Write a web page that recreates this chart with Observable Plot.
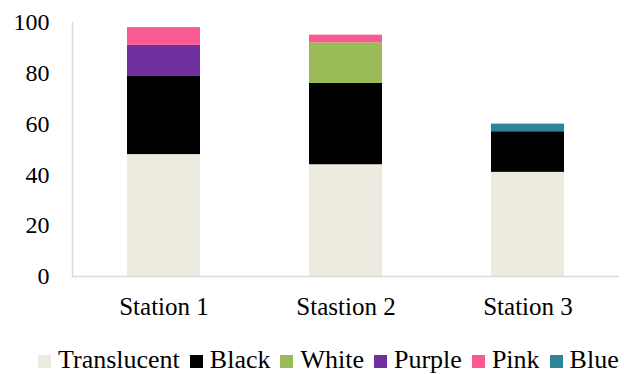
<!DOCTYPE html>
<html>
<head>
<meta charset="utf-8">
<script src="https://cdn.jsdelivr.net/npm/d3@7"></script>
<script src="https://cdn.jsdelivr.net/npm/@observablehq/plot@0.6"></script>
<style>
  html, body { margin: 0; padding: 0; background: #fff; }
  body { width: 624px; height: 374px; overflow: hidden; color: #000; }
  #legend { position: absolute; left: 38px; top: 346px; display: flex; align-items: center; font-family: "Liberation Serif", serif; font-size: 26px; line-height: 28px; white-space: nowrap; color: #000; }
  #legend .item { display: flex; align-items: center; margin-right: 10px; }
  #legend .sw { width: 13px; height: 13px; margin-right: 7px; margin-top: 2px; }
</style>
</head>
<body>
<div id="chart"></div>
<div id="legend"></div>
<script>
const stations = ["Station 1", "Stastion 2", "Station 3"];
const seriesNames = ["Translucent", "Black", "White", "Purple", "Pink", "Blue"];
const seriesColors = ["#EDEBE0", "#000000", "#9BBB59", "#7030A0", "#F95A93", "#2E8599"];
const translucent = [48, 44, 41];
const black = [31, 32, 16];
const white = [0, 16, 0];
const purple = [12, 0, 0];
const pink = [7, 3, 0];
const blue = [0, 0, 3];
const yTicks = [0, 20, 40, 60, 80, 100];

const seriesValues = [translucent, black, white, purple, pink, blue];
const data = [];
seriesNames.forEach((s, i) => {
  stations.forEach((st, j) => {
    data.push({station: st, series: s, value: seriesValues[i][j]});
  });
});

const chart = Plot.plot({
  width: 624,
  height: 330,
  marginLeft: 72,
  marginRight: 5,
  marginTop: 22,
  marginBottom: 54,
  style: {fontFamily: "Liberation Serif, serif", fontSize: "24px", color: "#000", background: "#fff"},
  x: {domain: stations, paddingInner: 0.6, paddingOuter: 0.3, label: null},
  y: {domain: [0, 100], label: null},
  color: {domain: seriesNames, range: seriesColors},
  marks: [
    Plot.barY(data, {x: "station", y: "value", fill: "series", order: seriesNames}),
    Plot.frame({anchor: "left", stroke: "#d9d9d9", strokeWidth: 1.5}),
    Plot.ruleY([0], {stroke: "#d9d9d9", strokeWidth: 1.5}),
    Plot.axisY(yTicks, {tickSize: 0, tickPadding: 23, fill: "#000", fontSize: 24}),
    Plot.axisX({tickSize: 0, tickPadding: 21, fill: "#000", fontSize: 25})
  ]
});
document.getElementById("chart").appendChild(chart);

const legend = document.getElementById("legend");
seriesNames.forEach((s, i) => {
  const item = document.createElement("span");
  item.className = "item";
  const sw = document.createElement("span");
  sw.className = "sw";
  sw.style.background = seriesColors[i];
  const t = document.createElement("span");
  t.textContent = s;
  item.appendChild(sw);
  item.appendChild(t);
  legend.appendChild(item);
});
</script>
</body>
</html>
